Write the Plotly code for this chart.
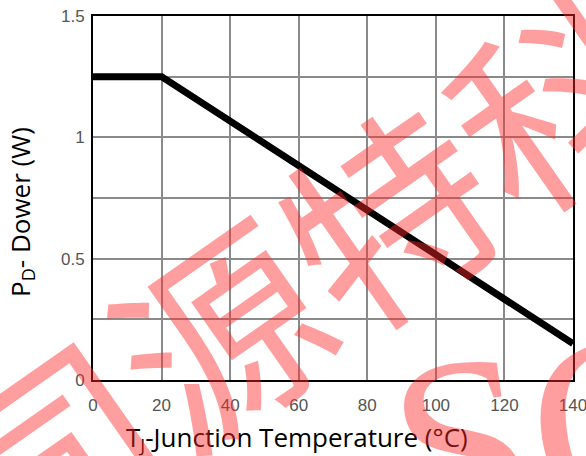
import plotly.graph_objects as go

# data
temps = [0, 20, 140]
power = [1.25, 1.25, 0.15]
x_ticks = [0, 20, 40, 60, 80, 100, 120, 140]
y_ticks = [0, 0.5, 1, 1.5]
y_tick_text = ["0", "0.5", "1", "1.5"]
watermark_cn = "司源特科"
watermark_en = "SC"

fig = go.Figure()
fig.add_trace(go.Scatter(x=temps, y=power, mode="lines",
                         line=dict(color="black", width=7), showlegend=False,
                         hoverinfo="skip"))

L, R, T, B = 93, 13, 16, 76
W, H = 586, 456
pw, ph = W - L - R, H - T - B

def px(xp, yp):
    return (xp - L) / pw, (H - B - yp) / ph

grid = "#8a8a8a"
fig.update_layout(
    width=W, height=H,
    margin=dict(l=L, r=R, t=T, b=B, pad=0, autoexpand=False),
    paper_bgcolor="white", plot_bgcolor="white",
    font=dict(family="Liberation Sans, Arial", color="#555555", size=17),
    xaxis=dict(range=[0, 140], tickvals=x_ticks, showgrid=True,
               gridcolor=grid, gridwidth=2, zeroline=False, automargin=False,
               showline=True, linecolor="black", linewidth=2, mirror=True,
               ticks="", ticklabelstandoff=9, ticklabeloverflow="allow",
               tickfont=dict(size=17, color="#555555")),
    yaxis=dict(range=[0, 1.5], tickvals=y_ticks, ticktext=y_tick_text,
               showgrid=True, gridcolor=grid, gridwidth=2, automargin=False,
               zeroline=False, showline=True, linecolor="black", linewidth=2,
               mirror=True, ticks="", ticklabelstandoff=3,
               ticklabeloverflow="allow",
               minor=dict(dtick=0.25, showgrid=True, gridcolor=grid,
                          gridwidth=2),
               tickfont=dict(size=17, color="#555555")),
)

# axis titles
ax, ay = px(297, 438)
fig.add_annotation(xref="paper", yref="paper", x=ax, y=ay,
                   xanchor="center", yanchor="middle",
                   text="T<sub>J</sub>-Junction Temperature (°C)",
                   showarrow=False, font=dict(family="Open Sans", size=26,
                                              color="black"))
ax, ay = px(21, 212)
fig.add_annotation(xref="paper", yref="paper", x=ax, y=ay,
                   xanchor="center", yanchor="middle",
                   text="P<sub>D</sub>- Dower (W)", textangle=-90,
                   showarrow=False, font=dict(family="Open Sans", size=26,
                                              color="black"))

# watermark
ax, ay = px(300, 268)
fig.add_annotation(xref="paper", yref="paper", x=ax, y=ay,
                   xanchor="center", yanchor="middle",
                   text=watermark_cn, textangle=-35, showarrow=False,
                   font=dict(family="Noto Sans CJK SC", size=205,
                             color="rgba(255,40,40,0.45)"))
ax, ay = px(545, 432)
fig.add_annotation(xref="paper", yref="paper", x=ax, y=ay,
                   xanchor="center", yanchor="middle",
                   text=watermark_en, textangle=-8, showarrow=False,
                   font=dict(family="Liberation Serif", size=250,
                             color="rgba(255,40,40,0.45)"))

fig.write_html(
    "out.html",
    config={"displayModeBar": False},
    post_script="document.body.style.margin='0';"
                "document.body.style.overflow='hidden';",
)
